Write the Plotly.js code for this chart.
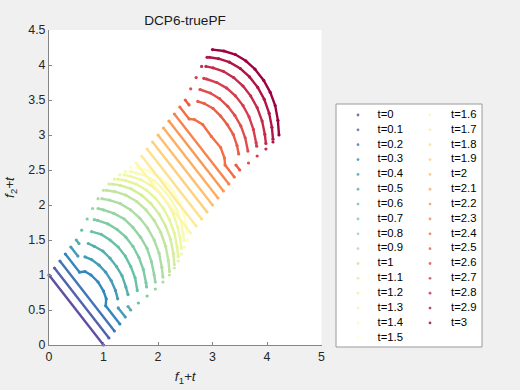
<!DOCTYPE html>
<html><head><meta charset="utf-8">
<script src="https://cdn.plot.ly/plotly-3.0.1.min.js"></script>
<style>html,body{margin:0;padding:0;background:#f0f0f0;overflow:hidden}#chart{width:520px;height:390px}</style>
</head><body><div id="chart"></div>
<script>
// time steps
const tValues = [0,0.1,0.2,0.3,0.4,0.5,0.6,0.7,0.8,0.9,1,1.1,1.2,1.3,1.4,1.5,1.6,1.7,1.8,1.9,2,2.1,2.2,2.3,2.4,2.5,2.6,2.7,2.8,2.9,3];
// f1 values of the true PF for each t (null = gap)
const f1Values = [
 [0,1],
 [0,1],
 [0,1],
 [0,0.26,0.36,0.47,0.6,0.7,0.75,0.74,1],
 [0,0.13,null,0.26,0.38,0.52,0.64,0.74,0.82,0.86,null,0.87,1],
 [0,0.05,null,0.22,0.33,0.49,0.62,0.74,0.84,0.91,0.95,null,0.95,1],
 [0,null,0.18,0.36,0.52,0.67,0.8,0.9,0.98,1.02,null,1.04],
 [0,null,0.13,0.19,0.38,0.55,0.71,0.84,0.95,1.03,1.08,1.09,null,1.1],
 [0,null,0.1,0.2,0.39,0.58,0.74,0.88,1.0,1.08,1.13,1.15,null,1.15],
 [0,null,0.07,0.21,0.41,0.6,0.77,0.91,1.03,1.12,1.17,1.19,null,1.19],
 [0,null,0.05,0.21,0.41,0.61,0.78,0.93,1.05,1.14,1.19,1.21,null,1.21],
 [0,null,0.05,0.21,0.41,0.6,0.77,0.92,1.04,1.13,1.18,1.2,null,1.2],
 [0,null,0.06,0.2,0.4,0.59,0.75,0.9,1.01,1.1,1.15,1.17,null,1.17],
 [0,null,0.08,0.2,0.39,0.57,0.73,0.87,0.98,1.06,1.11,1.13,null,1.13],
 [0,null,0.09,0.19,0.37,0.54,0.69,0.83,0.94,1.02,1.06,1.08,null,1.08],
 [0,null,0.11,0.18,0.36,0.52,0.67,0.8,0.9,0.98,1.02,1.03,null,1.04],
 [0,1],
 [0,1],
 [0,1],
 [0,1],
 [0,1],
 [0,1],
 [0,1],
 [0,1],
 [0,0.17,0.27,0.42,0.58,0.75,0.82,0.83,1],
 [0,0.07,null,0.23,0.35,0.51,0.65,0.77,0.88,0.95,0.98,null,0.93,1],
 [0,null,0.17,0.36,0.53,0.68,0.81,0.92,1.0,1.05,null,1.06],
 [0,null,0.14,0.19,0.38,0.56,0.72,0.86,0.97,1.05,1.1,1.11,null,1.12],
 [0,null,0.08,0.21,0.4,0.59,0.76,0.9,1.02,1.11,1.16,1.18,null,1.18],
 [0,null,0.04,0.21,0.41,0.61,0.78,0.93,1.05,1.14,1.19,1.21,null,1.21],
 [0,0.21,0.42,0.61,0.78,0.94,1.06,1.15,1.2,1.22]
];
// f2 values of the true PF for each t
const f2Values = [
 [1,0],
 [1,0],
 [1,0],
 [1,0.74,0.75,0.7,0.6,0.47,0.36,0.26,0],
 [1,0.87,null,0.86,0.82,0.74,0.64,0.52,0.38,0.26,null,0.13,0],
 [1,0.95,null,0.95,0.91,0.84,0.74,0.62,0.49,0.33,0.22,null,0.05,0],
 [1.04,null,1.02,0.98,0.9,0.8,0.67,0.52,0.36,0.18,null,0],
 [1.1,null,1.09,1.08,1.03,0.95,0.84,0.71,0.55,0.38,0.19,0.13,null,0],
 [1.15,null,1.15,1.13,1.08,1.0,0.88,0.74,0.58,0.39,0.2,0.1,null,0],
 [1.19,null,1.19,1.17,1.12,1.03,0.91,0.77,0.6,0.41,0.21,0.07,null,0],
 [1.21,null,1.21,1.19,1.14,1.05,0.93,0.78,0.61,0.41,0.21,0.05,null,0],
 [1.2,null,1.2,1.18,1.13,1.04,0.92,0.77,0.6,0.41,0.21,0.05,null,0],
 [1.17,null,1.17,1.15,1.1,1.01,0.9,0.75,0.59,0.4,0.2,0.06,null,0],
 [1.13,null,1.13,1.11,1.06,0.98,0.87,0.73,0.57,0.39,0.2,0.08,null,0],
 [1.08,null,1.08,1.06,1.02,0.94,0.83,0.69,0.54,0.37,0.19,0.09,null,0],
 [1.04,null,1.03,1.02,0.98,0.9,0.8,0.67,0.52,0.36,0.18,0.11,null,0],
 [1,0],
 [1,0],
 [1,0],
 [1,0],
 [1,0],
 [1,0],
 [1,0],
 [1,0],
 [1,0.83,0.82,0.75,0.58,0.42,0.27,0.17,0],
 [1,0.93,null,0.98,0.95,0.88,0.77,0.65,0.51,0.35,0.23,null,0.07,0],
 [1.06,null,1.05,1.0,0.92,0.81,0.68,0.53,0.36,0.17,null,0],
 [1.12,null,1.11,1.1,1.05,0.97,0.86,0.72,0.56,0.38,0.19,0.14,null,0],
 [1.18,null,1.18,1.16,1.11,1.02,0.9,0.76,0.59,0.4,0.21,0.08,null,0],
 [1.21,null,1.21,1.19,1.14,1.05,0.93,0.78,0.61,0.41,0.21,0.04,null,0],
 [1.22,1.2,1.15,1.06,0.94,0.78,0.61,0.42,0.21,0]
];
const xTicks = [0,1,2,3,4,5];
const yTicks = [0,0.5,1,1.5,2,2.5,3,3.5,4,4.5];
const legendLabels = tValues.map(t => 't=' + t);

// Spectral colormap (reversed) anchors
const anchors = ['#5e4fa2','#3288bd','#66c2a5','#abdda4','#e6f598','#ffffbf','#fee08b','#fdae61','#f46d43','#d53e4f','#9e0142'];
function hex2rgb(h){return [parseInt(h.slice(1,3),16),parseInt(h.slice(3,5),16),parseInt(h.slice(5,7),16)];}
function cmap(u){
  const p = u*(anchors.length-1);
  const i = Math.min(Math.floor(p), anchors.length-2);
  const f = p - i;
  const a = hex2rgb(anchors[i]), b = hex2rgb(anchors[i+1]);
  const c = a.map((v,k)=>Math.round(v+(b[k]-v)*f));
  return 'rgb('+c.join(',')+')';
}
const n = tValues.length;
const colors = tValues.map((t,i)=>cmap(i/(n-1)));

const traces = [];
tValues.forEach((t,i)=>{
  traces.push({
    type:'scatter', mode:'lines+markers',
    x: f1Values[i].map(v => v===null ? null : v + t),
    y: f2Values[i].map(v => v===null ? null : v + t),
    line:{color:colors[i], width:2.4},
    marker:{color:colors[i], size:3.2},
    connectgaps:false, cliponaxis:false,
    name: legendLabels[i], hoverinfo:'name',
    xaxis:'x', yaxis:'y'
  });
});

// Legend drawn in its own small subplot (two columns, like the MATLAB legend)
const perCol = 16, rowH = 14.85, row0 = 11;
const legX = [], legY = [], txtX = [];
tValues.forEach((t,i)=>{
  const col = i < perCol ? 0 : 1;
  const row = i < perCol ? i : i - perCol;
  legX.push(col===0 ? 22 : 94);
  txtX.push(col===0 ? 41.5 : 115);
  legY.push(row0 + row*rowH);
});
traces.push({
  type:'scatter', mode:'markers', x:legX, y:legY,
  marker:{color:colors, size:2.8, opacity:0.8}, xaxis:'x2', yaxis:'y2', hoverinfo:'skip'
});
traces.push({
  type:'scatter', mode:'text', x:txtX, y:legY, text:legendLabels,
  textposition:'middle right', textfont:{size:11.3, color:'#000000', family:'Arial, "Liberation Sans", sans-serif'},
  xaxis:'x2', yaxis:'y2', hoverinfo:'skip', cliponaxis:false
});

const W = 520, H = 390;
const axColor = '#858585';
const layout = {
  width:W, height:H,
  margin:{l:0,r:0,t:0,b:0},
  paper_bgcolor:'#f0f0f0', plot_bgcolor:'#ffffff',
  showlegend:false,
  font:{family:'Arial, "Liberation Sans", sans-serif', size:12.4, color:'#262626'},
  title:{text:'DCP6-truePF', x:185/W, xref:'paper', xanchor:'center', y:1-20/H, yref:'paper', yanchor:'middle',
         font:{size:13.6, color:'#1a1a1a'}},
  xaxis:{domain:[49/W, 321.5/W], range:[0,5], tickvals:xTicks, ticks:'inside', ticklen:3, tickcolor:axColor,
         showline:true, linecolor:axColor, linewidth:1, showgrid:false, zeroline:false, anchor:'y',
         automargin:false, fixedrange:true,
         title:{text:'<i>f</i><sub>1</sub><i>+t</i>', font:{size:13.6, color:'#262626'}, standoff:8}},
  yaxis:{domain:[1-345/H, 1-30/H], range:[0,4.5], tickvals:yTicks, ticks:'inside', ticklen:3, tickcolor:axColor,
         showline:true, linecolor:axColor, linewidth:1, showgrid:false, zeroline:false, anchor:'x',
         automargin:false, fixedrange:true,
         title:{text:'<i>f</i><sub>2</sub><i>+t</i>', font:{size:13.6, color:'#262626'}, standoff:10}},
  xaxis2:{domain:[336/W, 482/W], range:[0,146], visible:false, anchor:'y2', fixedrange:true},
  yaxis2:{domain:[1-347/H, 1-104/H], range:[243,0], visible:false, anchor:'x2', fixedrange:true},
  shapes:[{type:'rect', xref:'paper', yref:'paper', x0:336/W, x1:482/W, y0:1-347/H, y1:1-104/H,
           line:{color:'#9a9a9a', width:1}, fillcolor:'rgba(0,0,0,0)', layer:'above'}]
};
Plotly.newPlot('chart', traces, layout, {displayModeBar:false, staticPlot:true});
</script>
</body></html>
